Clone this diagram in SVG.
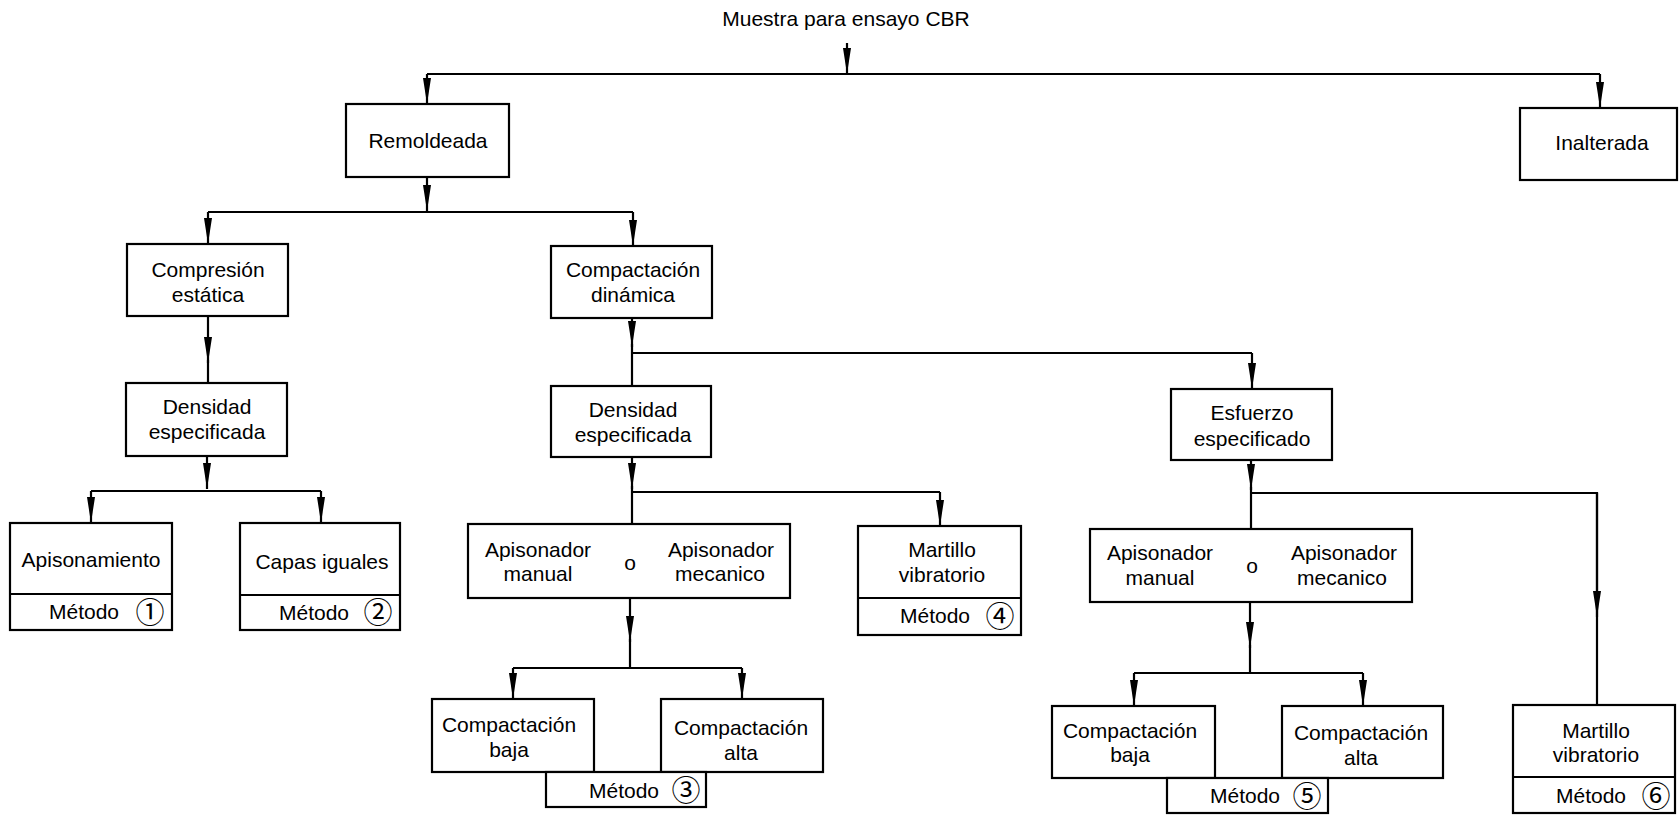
<svg xmlns="http://www.w3.org/2000/svg" width="1679" height="817" viewBox="0 0 1679 817">
<style>
  .box { fill: #fff; stroke: #000; stroke-width: 2.2; }
  .ln { fill: none; stroke: #000; stroke-width: 2.2; }
  .t { font-family: "Liberation Sans", Arial, sans-serif; font-size: 21px; fill: #000; }
  .c { text-anchor: middle; }
  .n { font-family: "Noto Sans CJK JP", "DejaVu Sans", sans-serif; font-size: 29px; text-anchor: middle; fill: #000; }
</style>
<defs>
  <marker id="ah" viewBox="0 -4 26 8" refX="26" refY="0" markerWidth="26" markerHeight="8" markerUnits="userSpaceOnUse" orient="auto">
    <path d="M0,-4 L26,0 L0,4 z" fill="#000"/>
  </marker>
</defs>
<rect width="1679" height="817" fill="#fff"/>

<g id="connectors">
  <path class="ln" d="M847,43 V74" marker-end="url(#ah)"/>
  <path class="ln" d="M427,74 H1600"/>
  <path class="ln" d="M427,74 V104" marker-end="url(#ah)"/>
  <path class="ln" d="M1600,74 V108" marker-end="url(#ah)"/>

  <path class="ln" d="M427,177 V211" marker-end="url(#ah)"/>
  <path class="ln" d="M208,212 H633"/>
  <path class="ln" d="M208,212 V244" marker-end="url(#ah)"/>
  <path class="ln" d="M633,212 V246" marker-end="url(#ah)"/>

  <path class="ln" d="M208,316 V363" marker-end="url(#ah)"/>
  <path class="ln" d="M208,360 V383"/>

  <path class="ln" d="M207,456 V489" marker-end="url(#ah)"/>
  <path class="ln" d="M91,491 H321"/>
  <path class="ln" d="M91,491 V523" marker-end="url(#ah)"/>
  <path class="ln" d="M321,491 V523" marker-end="url(#ah)"/>

  <path class="ln" d="M632,318 V347" marker-end="url(#ah)"/>
  <path class="ln" d="M632,344 V386"/>
  <path class="ln" d="M632,353 H1252"/>
  <path class="ln" d="M1252,353 V389" marker-end="url(#ah)"/>

  <path class="ln" d="M632,457 V489" marker-end="url(#ah)"/>
  <path class="ln" d="M632,486 V524"/>
  <path class="ln" d="M632,492 H940"/>
  <path class="ln" d="M940,492 V526" marker-end="url(#ah)"/>

  <path class="ln" d="M630,598 V642" marker-end="url(#ah)"/>
  <path class="ln" d="M630,639 V668"/>
  <path class="ln" d="M513,668 H742"/>
  <path class="ln" d="M513,668 V699" marker-end="url(#ah)"/>
  <path class="ln" d="M742,668 V699" marker-end="url(#ah)"/>

  <path class="ln" d="M1251,460 V490" marker-end="url(#ah)"/>
  <path class="ln" d="M1251,487 V529"/>
  <path class="ln" d="M1251,493 H1597 V705"/>
  <path class="ln" d="M1597,493 V617" marker-end="url(#ah)"/>

  <path class="ln" d="M1250,602 V648" marker-end="url(#ah)"/>
  <path class="ln" d="M1250,645 V673"/>
  <path class="ln" d="M1134,673 H1363"/>
  <path class="ln" d="M1134,673 V706" marker-end="url(#ah)"/>
  <path class="ln" d="M1363,673 V706" marker-end="url(#ah)"/>
</g>

<g id="title">
  <text class="t c" x="846" y="26">Muestra para ensayo CBR</text>
</g>

<g id="remoldeada">
  <rect class="box" x="346" y="104" width="163" height="73"/>
  <text class="t c" x="428" y="148">Remoldeada</text>
</g>

<g id="inalterada">
  <rect class="box" x="1520" y="108" width="157" height="72"/>
  <text class="t c" x="1602" y="150">Inalterada</text>
</g>

<g id="compresion">
  <rect class="box" x="127" y="244" width="161" height="72"/>
  <text class="t c" x="208" y="277">Compresión</text>
  <text class="t c" x="208" y="302">estática</text>
</g>

<g id="compactacion-dinamica">
  <rect class="box" x="551" y="246" width="161" height="72"/>
  <text class="t c" x="633" y="277">Compactación</text>
  <text class="t c" x="633" y="302">dinámica</text>
</g>

<g id="densidad-1">
  <rect class="box" x="126" y="383" width="161" height="73"/>
  <text class="t c" x="207" y="414">Densidad</text>
  <text class="t c" x="207" y="439">especificada</text>
</g>

<g id="densidad-2">
  <rect class="box" x="551" y="386" width="160" height="71"/>
  <text class="t c" x="633" y="417">Densidad</text>
  <text class="t c" x="633" y="442">especificada</text>
</g>

<g id="esfuerzo">
  <rect class="box" x="1171" y="389" width="161" height="71"/>
  <text class="t c" x="1252" y="420">Esfuerzo</text>
  <text class="t c" x="1252" y="446">especificado</text>
</g>

<g id="apisonamiento">
  <rect class="box" x="10" y="523" width="162" height="107"/>
  <line class="ln" x1="10" y1="594" x2="172" y2="594"/>
  <text class="t c" x="91" y="567">Apisonamiento</text>
  <text class="t" x="49" y="619">Método</text>
  <text class="n" x="150" y="623">①</text>
</g>

<g id="capas-iguales">
  <rect class="box" x="240" y="523" width="160" height="107"/>
  <line class="ln" x1="240" y1="595" x2="400" y2="595"/>
  <text class="t c" x="322" y="569">Capas iguales</text>
  <text class="t" x="279" y="620">Método</text>
  <text class="n" x="378" y="623">②</text>
</g>

<g id="apisonador-1">
  <rect class="box" x="468" y="524" width="322" height="74"/>
  <text class="t c" x="538" y="557">Apisonador</text>
  <text class="t c" x="538" y="581">manual</text>
  <text class="t c" x="630" y="570">o</text>
  <text class="t c" x="721" y="557">Apisonador</text>
  <text class="t c" x="720" y="581">mecanico</text>
</g>

<g id="martillo-4">
  <rect class="box" x="858" y="526" width="163" height="109"/>
  <line class="ln" x1="858" y1="598" x2="1021" y2="598"/>
  <text class="t c" x="942" y="557">Martillo</text>
  <text class="t c" x="942" y="582">vibratorio</text>
  <text class="t" x="900" y="623">Método</text>
  <text class="n" x="1000" y="627">④</text>
</g>

<g id="compactacion-baja-1">
  <rect class="box" x="432" y="699" width="162" height="73"/>
  <text class="t c" x="509" y="732">Compactación</text>
  <text class="t c" x="509" y="757">baja</text>
</g>

<g id="compactacion-alta-1">
  <rect class="box" x="661" y="699" width="162" height="73"/>
  <text class="t c" x="741" y="735">Compactación</text>
  <text class="t c" x="741" y="760">alta</text>
</g>

<g id="metodo-3">
  <rect class="box" x="546" y="772" width="160" height="35"/>
  <text class="t" x="589" y="798">Método</text>
  <text class="n" x="686" y="801">③</text>
</g>

<g id="apisonador-2">
  <rect class="box" x="1090" y="529" width="322" height="73"/>
  <text class="t c" x="1160" y="560">Apisonador</text>
  <text class="t c" x="1160" y="585">manual</text>
  <text class="t c" x="1252" y="573">o</text>
  <text class="t c" x="1344" y="560">Apisonador</text>
  <text class="t c" x="1342" y="585">mecanico</text>
</g>

<g id="compactacion-baja-2">
  <rect class="box" x="1052" y="706" width="163" height="72"/>
  <text class="t c" x="1130" y="738">Compactación</text>
  <text class="t c" x="1130" y="762">baja</text>
</g>

<g id="compactacion-alta-2">
  <rect class="box" x="1282" y="706" width="161" height="72"/>
  <text class="t c" x="1361" y="740">Compactación</text>
  <text class="t c" x="1361" y="765">alta</text>
</g>

<g id="metodo-5">
  <rect class="box" x="1167" y="778" width="161" height="35"/>
  <text class="t" x="1210" y="803">Método</text>
  <text class="n" x="1307" y="807">⑤</text>
</g>

<g id="martillo-6">
  <rect class="box" x="1513" y="705" width="162" height="108"/>
  <line class="ln" x1="1513" y1="777" x2="1675" y2="777"/>
  <text class="t c" x="1596" y="738">Martillo</text>
  <text class="t c" x="1596" y="762">vibratorio</text>
  <text class="t" x="1556" y="803">Método</text>
  <text class="n" x="1656" y="807">⑥</text>
</g>
</svg>
